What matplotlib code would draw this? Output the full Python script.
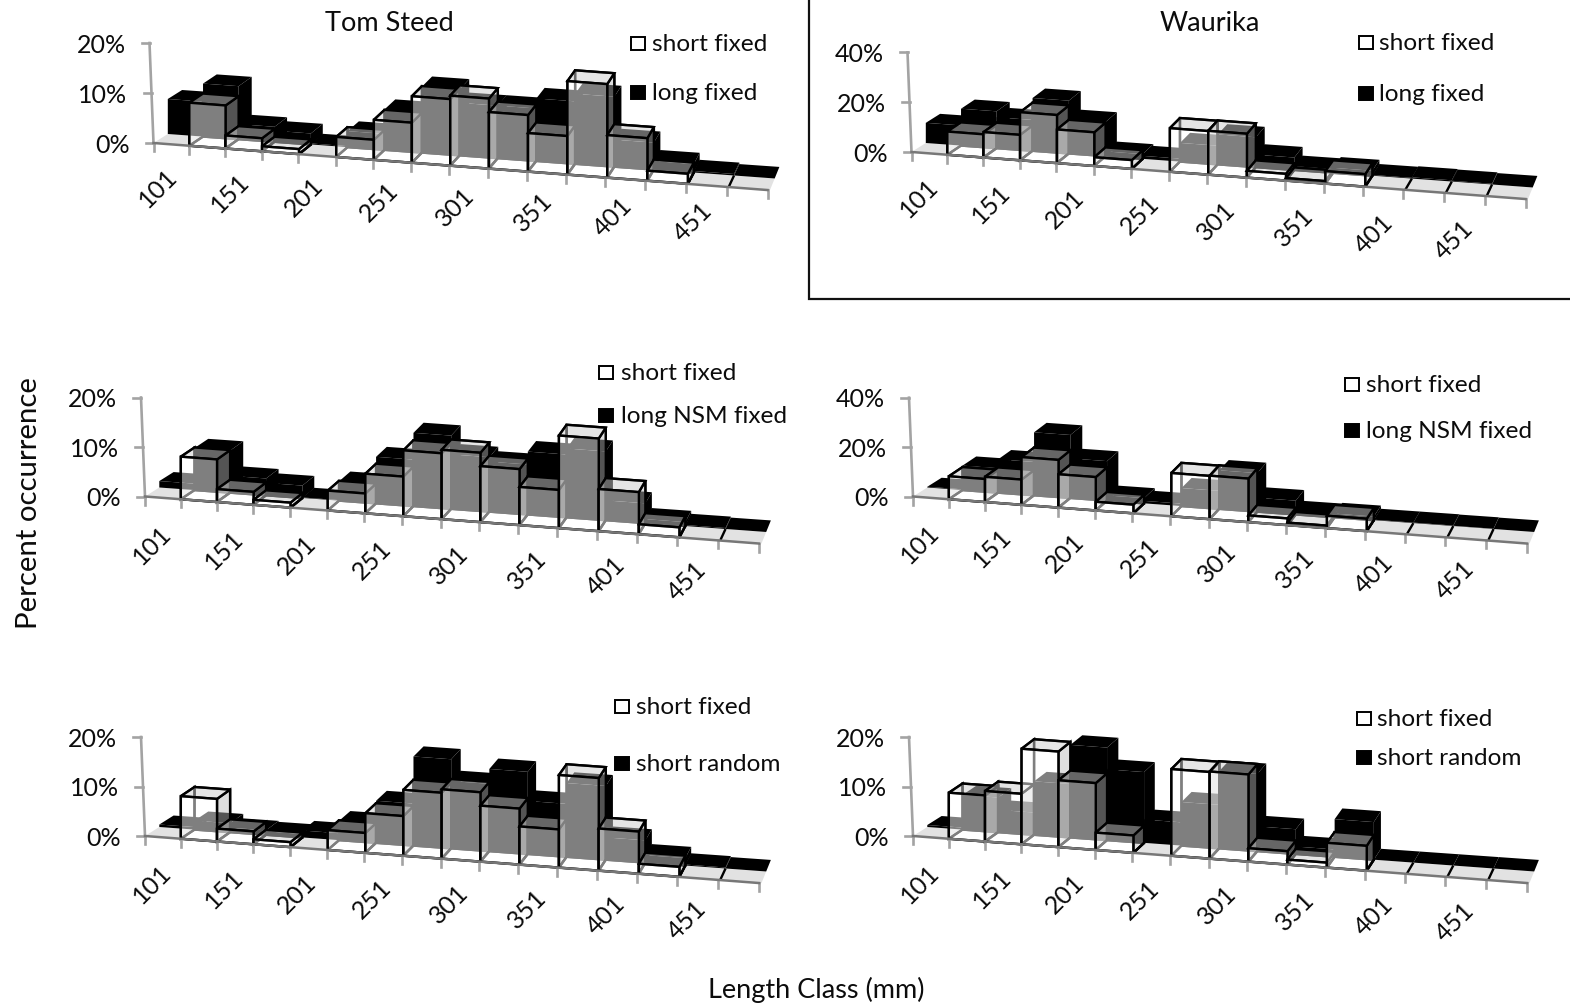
import matplotlib
matplotlib.use('Agg')
import matplotlib.pyplot as plt
from matplotlib.patches import Polygon, Rectangle

plt.rcParams['font.family'] = ['Lato', 'DejaVu Sans']

# Length classes, one bar per class, only every other class gets a label
CLASS_LABELS = ['101', '151', '201', '251', '301', '351', '401', '451']

TOM_SHORT_FIXED = [0, 8.6, 2.6, 1, 0, 4, 8, 13.3, 14, 11.3, 7.7, 18.7, 8.5, 2, 0, 0]
TOM_LONG_FIXED = [7, 10.6, 3, 2.2, 0.2, 3.2, 8.1, 13.2, 10.5, 10.5, 12.5, 14, 5.4, 1.7, 0.3, 0]
TOM_LONG_NSM = [1.3, 8.5, 3.4, 2.5, 0.1, 3.9, 9.4, 14.8, 11, 10.1, 12.7, 13.9, 4, 0.8, 0.2, 0]
TOM_SHORT_RANDOM = [0.5, 1.8, 0.9, 0.7, 1.4, 3.9, 8.5, 18, 13.6, 16.6, 10.7, 14.9, 4.5, 1.5, 0.2, 0]

WAU_SHORT_FIXED = [0, 9.3, 10.2, 19.3, 13.5, 3.5, 0, 17.5, 17.6, 2.7, 1, 5, 0, 0, 0, 0]
WAU_LONG_FIXED = [8.1, 14.8, 12.4, 21.2, 13.7, 1.9, 1.2, 7.5, 12, 5, 1.5, 2, 0.3, 0.5, 0.3, 0]
WAU_LONG_NSM = [0.3, 9.9, 13.5, 25.5, 16, 2.1, 1, 7.3, 15.6, 5.6, 1.2, 1.5, 0.2, 0.2, 0.1, 0]
WAU_SHORT_RANDOM = [0.4, 7, 4.5, 10.8, 18.7, 14.3, 4.7, 8.8, 15.6, 5, 1.5, 7.6, 0, 0, 0, 0]

TOM_TICKS = ['0%', '10%', '20%']
WAU_TICKS = ['0%', '20%', '40%']
SHORT_TICKS = [0, 10, 20]
TALL_TICKS = [0, 20, 40]

TEXT_COLOR = '#0c0c0c'
TICK_SIZE = 18
LEGEND_SIZE = 17.6
TITLE_SIZE = 19.5
N_CLASSES = 16


def classX(panel, i):
    return panel['x0'] + 35.5*i + 0.18*i*i


def depthX(i):
    return 14.3 - 0.6*i


def depthY(i):
    return 9 + 0.16*i


def project(panel, i, depth, value):
    x = classX(panel, i)
    y = panel['y0'] + panel['slope']*(x - panel['x0'])
    # the bars sit a little further along than the axis ticks
    x = x + 0.15*i + depth*depthX(i)
    y = y - depth*depthY(i) - value*panel['pxPerUnit']
    return x, y


def face(ax, corners, color, edge='none', lw=0):
    ax.add_patch(Polygon(corners, closed=True, facecolor=color, edgecolor=edge,
                         linewidth=lw, joinstyle='miter'))


def drawFloor(ax, panel):
    front = [project(panel, i, 0, 0) for i in range(N_CLASSES + 1)]
    back = [project(panel, i, 1, 0) for i in range(N_CLASSES + 1)]
    face(ax, front + back[::-1], '#e2e2e2')


def drawBackRow(ax, panel, values):
    for i, v in enumerate(values):
        front = [project(panel, i, 1, 0), project(panel, i + 1, 1, 0),
                 project(panel, i + 1, 1, v), project(panel, i, 1, v)]
        side = [project(panel, i + 1, 1, 0), project(panel, i + 1, 2, 0),
                project(panel, i + 1, 2, v), project(panel, i + 1, 1, v)]
        top = [project(panel, i, 1, v), project(panel, i + 1, 1, v),
               project(panel, i + 1, 2, v), project(panel, i, 2, v)]
        face(ax, front, 'black')
        face(ax, side, 'black')
        face(ax, top, 'black')


def drawFrontBar(ax, panel, i, v):
    lw = 1.7
    if v == 0:
        if i > 0:
            a = project(panel, i, 0, 0)
            b = project(panel, i, 1, 0)
            ax.plot([a[0], b[0]], [a[1], b[1]], color='black', lw=lw, solid_capstyle='butt')
        return

    # corners of the box: front/back, left/right, bottom/top
    fl0 = project(panel, i, 0, 0)
    fr0 = project(panel, i + 1, 0, 0)
    bl0 = project(panel, i, 1, 0)
    br0 = project(panel, i + 1, 1, 0)
    fl1 = project(panel, i, 0, v)
    fr1 = project(panel, i + 1, 0, v)
    bl1 = project(panel, i, 1, v)
    br1 = project(panel, i + 1, 1, v)

    # inside of the glassy box first, it shows through the front
    face(ax, [fl0, fr0, br0, bl0], 'white', 'black', lw)
    face(ax, [bl0, br0, br1, bl1], 'none', 'black', lw)
    face(ax, [fl0, bl0, bl1, fl1], 'none', 'black', lw)
    face(ax, [fr0, br0, br1, fr1], (0.72, 0.72, 0.72, 0.46), 'black', lw)
    face(ax, [fl1, fr1, br1, bl1], (0.8, 0.8, 0.8, 0.5), 'black', lw)
    face(ax, [fl0, fr0, fr1, fl1], (1, 1, 1, 0.5), 'black', lw)


def drawAxes(ax, panel, tickValues, tickLabels):
    axisColor = '#a3a3a3'
    x0, y0 = panel['x0'], panel['y0']
    top = tickValues[-1]
    ax.plot([x0, x0 - 4], [y0, y0 - top*panel['pxPerUnit']], color=axisColor, lw=1.9)
    for value, label in zip(tickValues, tickLabels):
        x = x0 - 4*value/top
        y = y0 - value*panel['pxPerUnit']
        ax.plot([x - 8, x], [y, y], color=axisColor, lw=1.9)
        ax.text(x - 24, y + 2, label, ha='right', va='center', fontsize=TICK_SIZE, color=TEXT_COLOR)

    for i in range(N_CLASSES + 1):
        x = classX(panel, i)
        y = y0 + panel['slope']*(x - x0)
        ax.plot([x, x], [y, y + 8], color=axisColor, lw=1.9)
    xEnd = classX(panel, N_CLASSES)
    ax.plot([x0, xEnd], [y0, y0 + panel['slope']*(xEnd - x0)], color='#777777', lw=1.8)

    dx, dy0, dyPerClass = panel['labelOffset']
    for n, label in enumerate(CLASS_LABELS):
        i = 2*n
        x = classX(panel, i + 0.5)
        y = y0 + panel['slope']*(x - x0)
        ax.text(x - 14 + dx, y + dy0 + dyPerClass*i, label, rotation=45, ha='center', va='center',
                rotation_mode='anchor', fontsize=TICK_SIZE, color=TEXT_COLOR)


def drawLegend(ax, panel):
    keyX, textX = panel['keyX'], panel['textX']
    y1, y2 = panel['legendY']
    ax.add_patch(Rectangle((keyX, y1 - 6.5), 14, 13, facecolor='white', edgecolor='black', lw=1.4))
    ax.add_patch(Rectangle((keyX, y2 - 6.5), 14, 13, facecolor='black', edgecolor='black', lw=1.4))
    ax.text(textX, y1 + 1, panel['front'], ha='left', va='center', fontsize=LEGEND_SIZE, color=TEXT_COLOR)
    ax.text(textX, y2 + 1, panel['back'], ha='left', va='center', fontsize=LEGEND_SIZE, color=TEXT_COLOR)


def drawPanel(ax, panel, shortValues, otherValues, tickValues, tickLabels):
    drawFloor(ax, panel)
    drawBackRow(ax, panel, otherValues)
    for i, v in enumerate(shortValues):
        drawFrontBar(ax, panel, i, v)
    drawAxes(ax, panel, tickValues, tickLabels)
    drawLegend(ax, panel)


def main():
    fig = plt.figure(figsize=(15.7, 10.05), dpi=100)
    ax = fig.add_axes([0, 0, 1, 1])
    ax.set_xlim(0, 1570)
    ax.set_ylim(1005, 0)
    ax.axis('off')

    slope = 0.0766
    tomLong = dict(x0=153.5, y0=143, slope=slope, pxPerUnit=5.0, keyX=631, textX=652,
                   legendY=(43, 92), front='short fixed', back='long fixed',
                   labelOffset=(1, 44, -0.5))
    wauLong = dict(x0=911.5, y0=152, slope=slope, pxPerUnit=2.49, keyX=1359, textX=1379,
                   legendY=(42, 93), front='short fixed', back='long fixed',
                   labelOffset=(4, 45, 0.07))
    tomNsm = dict(x0=145, y0=496.5, slope=slope, pxPerUnit=4.95, keyX=599, textX=621,
                  legendY=(372, 415), front='short fixed', back='long NSM fixed',
                  labelOffset=(3, 47, -0.29))
    wauNsm = dict(x0=913, y0=496.5, slope=slope, pxPerUnit=2.47, keyX=1345, textX=1366,
                  legendY=(384, 430), front='short fixed', back='long NSM fixed',
                  labelOffset=(3, 46, -0.36))
    tomRandom = dict(x0=145, y0=836, slope=slope, pxPerUnit=4.95, keyX=615, textX=636,
                     legendY=(706, 763), front='short fixed', back='short random',
                     labelOffset=(3, 47, -0.36))
    wauRandom = dict(x0=913, y0=836, slope=slope, pxPerUnit=4.95, keyX=1357, textX=1377,
                     legendY=(718, 757), front='short fixed', back='short random',
                     labelOffset=(3, 47, -0.2))

    drawPanel(ax, tomLong, TOM_SHORT_FIXED, TOM_LONG_FIXED, SHORT_TICKS, TOM_TICKS)
    drawPanel(ax, wauLong, WAU_SHORT_FIXED, WAU_LONG_FIXED, TALL_TICKS, WAU_TICKS)
    drawPanel(ax, tomNsm, TOM_SHORT_FIXED, TOM_LONG_NSM, SHORT_TICKS, TOM_TICKS)
    drawPanel(ax, wauNsm, WAU_SHORT_FIXED, WAU_LONG_NSM, TALL_TICKS, WAU_TICKS)
    drawPanel(ax, tomRandom, TOM_SHORT_FIXED, TOM_SHORT_RANDOM, SHORT_TICKS, TOM_TICKS)
    drawPanel(ax, wauRandom, WAU_SHORT_FIXED, WAU_SHORT_RANDOM, SHORT_TICKS, TOM_TICKS)

    # box around the top right panel
    ax.plot([808.5, 808.5, 1570], [0, 299, 299], color='#111111', lw=1.6, solid_joinstyle='miter')

    ax.text(389, 23, 'Tom Steed', ha='center', va='center', fontsize=TITLE_SIZE, color=TEXT_COLOR)
    ax.text(1210, 23, 'Waurika', ha='center', va='center', fontsize=TITLE_SIZE, color=TEXT_COLOR)
    ax.text(29, 503, 'Percent occurrence', rotation=90, ha='center', va='center',
            fontsize=21.2, color=TEXT_COLOR)
    ax.text(816, 990, 'Length Class (mm)', ha='center', va='center', fontsize=TITLE_SIZE, color=TEXT_COLOR)

    fig.savefig('out.png', dpi=100)


if __name__ == '__main__':
    main()
